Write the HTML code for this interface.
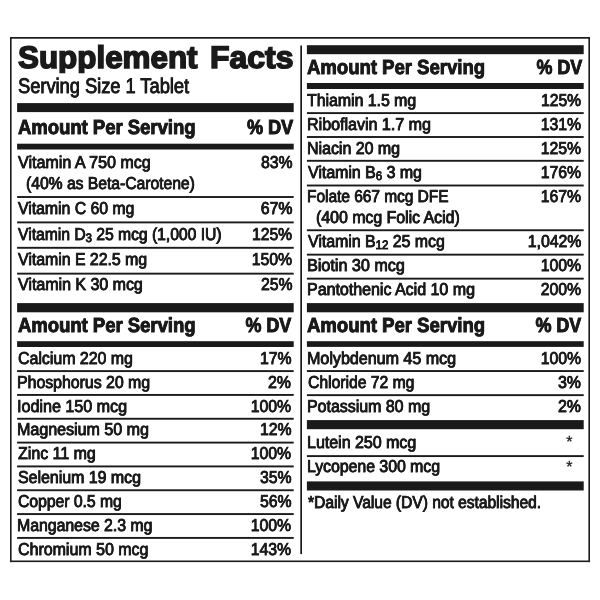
<!DOCTYPE html>
<html><head><meta charset="utf-8"><title>Supplement Facts</title>
<style>
html,body{margin:0;padding:0;background:#fff;}
body{width:600px;height:600px;position:relative;overflow:hidden;font-family:"Liberation Sans",sans-serif;color:#1a1a1a;text-rendering:geometricPrecision;}
#w{position:absolute;left:0;top:0;width:600px;height:600px;will-change:transform;background:#fff;}
.r{position:absolute;background:#1a1a1a;}
.t{position:absolute;white-space:nowrap;line-height:1;margin:0;padding:0;}
.b{font-weight:bold;-webkit-text-stroke:0.9px #1a1a1a;text-shadow:0.4px 0 0 #1a1a1a;}
.ttl{font-weight:bold;-webkit-text-stroke:1.6px #1a1a1a;clip-path:inset(-6px -6px 0px -6px);}
.row{-webkit-text-stroke:0.8px #1a1a1a;text-shadow:0.4px 0 0 #1a1a1a;}
.srv{-webkit-text-stroke:0.8px #1a1a1a;text-shadow:0.4px 0 0 #1a1a1a;}
.ast{-webkit-text-stroke:0.3px #1a1a1a;}
.sub{font-size:72%;position:relative;top:0.16em;}
</style></head><body><div id="w">
<svg width="600" height="600" viewBox="0 0 600 600" style="position:absolute;left:0;top:0" fill="#1a1a1a">
<rect x="10.00" y="37.00" width="580.00" height="1.70"/>
<rect x="10.00" y="560.50" width="580.00" height="1.60"/>
<rect x="10.00" y="37.00" width="1.60" height="525.10"/>
<rect x="588.40" y="37.00" width="1.60" height="525.10"/>
<rect x="300.30" y="45.50" width="1.70" height="508.60"/>
<rect x="17.10" y="103.10" width="276.60" height="9.00"/>
<rect x="17.10" y="143.70" width="276.60" height="5.80"/>
<rect x="17.10" y="196.05" width="276.60" height="1.90"/>
<rect x="17.10" y="221.45" width="276.60" height="1.90"/>
<rect x="17.10" y="246.85" width="276.60" height="1.90"/>
<rect x="17.10" y="272.70" width="276.60" height="1.90"/>
<rect x="17.10" y="303.10" width="276.60" height="9.20"/>
<rect x="17.10" y="341.20" width="276.60" height="5.80"/>
<rect x="17.10" y="370.15" width="276.60" height="1.90"/>
<rect x="17.10" y="393.98" width="276.60" height="1.90"/>
<rect x="17.10" y="417.81" width="276.60" height="1.90"/>
<rect x="17.10" y="441.64" width="276.60" height="1.90"/>
<rect x="17.10" y="465.47" width="276.60" height="1.90"/>
<rect x="17.10" y="489.30" width="276.60" height="1.90"/>
<rect x="17.10" y="513.13" width="276.60" height="1.90"/>
<rect x="17.10" y="536.96" width="276.60" height="1.90"/>
<rect x="306.90" y="45.20" width="276.80" height="9.00"/>
<rect x="306.90" y="83.00" width="276.80" height="6.00"/>
<rect x="306.90" y="112.15" width="276.80" height="1.90"/>
<rect x="306.90" y="136.05" width="276.80" height="1.90"/>
<rect x="306.90" y="159.85" width="276.80" height="1.90"/>
<rect x="306.90" y="184.55" width="276.80" height="1.90"/>
<rect x="306.90" y="229.30" width="276.80" height="1.90"/>
<rect x="306.90" y="253.70" width="276.80" height="1.90"/>
<rect x="306.90" y="277.70" width="276.80" height="1.90"/>
<rect x="306.90" y="303.10" width="276.80" height="9.20"/>
<rect x="306.90" y="341.20" width="276.80" height="5.70"/>
<rect x="306.90" y="370.10" width="276.80" height="1.90"/>
<rect x="306.90" y="394.20" width="276.80" height="1.90"/>
<rect x="306.90" y="420.10" width="276.80" height="9.10"/>
<rect x="306.90" y="455.15" width="276.80" height="1.90"/>
<rect x="306.90" y="481.40" width="276.80" height="9.10"/>
</svg>
<div class="t ttl" style="left:18.00px;top:42.00px;font-size:31.2px;transform:scaleX(1.0060);transform-origin:0 0">Supplement</div>
<div class="t ttl" style="left:210.00px;top:42.00px;font-size:31.2px;transform:scaleX(1.0236);transform-origin:0 0">Facts</div>
<div class="t srv" style="left:18.00px;top:76.00px;font-size:21.1px;transform:scaleX(0.8649);transform-origin:0 0">Serving Size 1 Tablet</div>
<div class="t b" style="left:18.00px;top:118.00px;font-size:20.4px;transform:scaleX(0.9054);transform-origin:0 0">Amount Per Serving</div>
<div class="t b" style="right:306.70px;top:118.00px;font-size:20.4px;transform:scaleX(0.8852);transform-origin:100% 0">% DV</div>
<div class="t row" style="left:18.00px;top:154.00px;font-size:17.2px;transform:scaleX(0.9339);transform-origin:0 0">Vitamin A 750 mcg</div>
<div class="t row" style="right:307.70px;top:154.00px;font-size:17.2px;transform:scaleX(0.9153);transform-origin:100% 0">83%</div>
<div class="t row" style="left:26.00px;top:175.00px;font-size:17.2px;transform:scaleX(0.9105);transform-origin:0 0">(40% as Beta-Carotene)</div>
<div class="t row" style="left:18.00px;top:200.00px;font-size:17.2px;transform:scaleX(0.9167);transform-origin:0 0">Vitamin C 60 mg</div>
<div class="t row" style="right:307.70px;top:200.00px;font-size:17.2px;transform:scaleX(0.9199);transform-origin:100% 0">67%</div>
<div class="t row" style="left:18.00px;top:226.00px;font-size:17.2px;transform:scaleX(0.9108);transform-origin:0 0">Vitamin D<span class="sub">3</span> 25 mcg (1,000 IU)</div>
<div class="t row" style="right:307.70px;top:226.00px;font-size:17.2px;transform:scaleX(0.9081);transform-origin:100% 0">125%</div>
<div class="t row" style="left:18.00px;top:251.00px;font-size:17.2px;transform:scaleX(0.9207);transform-origin:0 0">Vitamin E 22.5 mg</div>
<div class="t row" style="right:307.70px;top:251.00px;font-size:17.2px;transform:scaleX(0.9150);transform-origin:100% 0">150%</div>
<div class="t row" style="left:18.00px;top:276.00px;font-size:17.2px;transform:scaleX(0.9282);transform-origin:0 0">Vitamin K 30 mcg</div>
<div class="t row" style="right:307.70px;top:276.00px;font-size:17.2px;transform:scaleX(0.9150);transform-origin:100% 0">25%</div>
<div class="t b" style="left:18.00px;top:316.00px;font-size:20.4px;transform:scaleX(0.9054);transform-origin:0 0">Amount Per Serving</div>
<div class="t b" style="right:308.70px;top:316.00px;font-size:20.4px;transform:scaleX(0.8767);transform-origin:100% 0">% DV</div>
<div class="t row" style="left:18.00px;top:350.00px;font-size:17.2px;transform:scaleX(0.9245);transform-origin:0 0">Calcium 220 mg</div>
<div class="t row" style="right:308.70px;top:350.00px;font-size:17.2px;transform:scaleX(0.9150);transform-origin:100% 0">17%</div>
<div class="t row" style="left:17.00px;top:374.00px;font-size:17.2px;transform:scaleX(0.9219);transform-origin:0 0">Phosphorus 20 mg</div>
<div class="t row" style="right:308.70px;top:374.00px;font-size:17.2px;transform:scaleX(0.9150);transform-origin:100% 0">2%</div>
<div class="t row" style="left:17.00px;top:398.00px;font-size:17.2px;transform:scaleX(0.9358);transform-origin:0 0">Iodine 150 mcg</div>
<div class="t row" style="right:308.70px;top:398.00px;font-size:17.2px;transform:scaleX(0.9150);transform-origin:100% 0">100%</div>
<div class="t row" style="left:17.00px;top:421.00px;font-size:17.2px;transform:scaleX(0.9326);transform-origin:0 0">Magnesium 50 mg</div>
<div class="t row" style="right:308.70px;top:421.00px;font-size:17.2px;transform:scaleX(0.9150);transform-origin:100% 0">12%</div>
<div class="t row" style="left:18.00px;top:445.00px;font-size:17.2px;transform:scaleX(0.9281);transform-origin:0 0">Zinc 11 mg</div>
<div class="t row" style="right:308.70px;top:445.00px;font-size:17.2px;transform:scaleX(0.9150);transform-origin:100% 0">100%</div>
<div class="t row" style="left:18.00px;top:469.00px;font-size:17.2px;transform:scaleX(0.9257);transform-origin:0 0">Selenium 19 mcg</div>
<div class="t row" style="right:308.70px;top:469.00px;font-size:17.2px;transform:scaleX(0.9150);transform-origin:100% 0">35%</div>
<div class="t row" style="left:18.00px;top:493.00px;font-size:17.2px;transform:scaleX(0.9122);transform-origin:0 0">Copper 0.5 mg</div>
<div class="t row" style="right:308.70px;top:493.00px;font-size:17.2px;transform:scaleX(0.9150);transform-origin:100% 0">56%</div>
<div class="t row" style="left:17.00px;top:517.00px;font-size:17.2px;transform:scaleX(0.9196);transform-origin:0 0">Manganese 2.3 mg</div>
<div class="t row" style="right:308.70px;top:517.00px;font-size:17.2px;transform:scaleX(0.9150);transform-origin:100% 0">100%</div>
<div class="t row" style="left:18.00px;top:541.00px;font-size:17.2px;transform:scaleX(0.9282);transform-origin:0 0">Chromium 50 mcg</div>
<div class="t row" style="right:308.70px;top:541.00px;font-size:17.2px;transform:scaleX(0.9150);transform-origin:100% 0">143%</div>
<div class="t b" style="left:307.00px;top:58.00px;font-size:20.4px;transform:scaleX(0.9082);transform-origin:0 0">Amount Per Serving</div>
<div class="t b" style="right:17.80px;top:58.00px;font-size:20.4px;transform:scaleX(0.8756);transform-origin:100% 0">% DV</div>
<div class="t row" style="left:307.00px;top:92.00px;font-size:17.2px;transform:scaleX(0.9212);transform-origin:0 0">Thiamin 1.5 mg</div>
<div class="t row" style="right:18.80px;top:92.00px;font-size:17.2px;transform:scaleX(0.9081);transform-origin:100% 0">125%</div>
<div class="t row" style="left:307.00px;top:116.00px;font-size:17.2px;transform:scaleX(0.9327);transform-origin:0 0">Riboflavin 1.7 mg</div>
<div class="t row" style="right:18.80px;top:116.00px;font-size:17.2px;transform:scaleX(0.9150);transform-origin:100% 0">131%</div>
<div class="t row" style="left:307.00px;top:140.00px;font-size:17.2px;transform:scaleX(0.9268);transform-origin:0 0">Niacin 20 mg</div>
<div class="t row" style="right:18.80px;top:140.00px;font-size:17.2px;transform:scaleX(0.9150);transform-origin:100% 0">125%</div>
<div class="t row" style="left:308.00px;top:164.00px;font-size:17.2px;transform:scaleX(0.9246);transform-origin:0 0">Vitamin B<span class="sub">6</span> 3 mg</div>
<div class="t row" style="right:18.80px;top:164.00px;font-size:17.2px;transform:scaleX(0.9150);transform-origin:100% 0">176%</div>
<div class="t row" style="left:307.00px;top:188.00px;font-size:17.2px;transform:scaleX(0.8975);transform-origin:0 0">Folate 667 mcg DFE</div>
<div class="t row" style="right:18.80px;top:188.00px;font-size:17.2px;transform:scaleX(0.9150);transform-origin:100% 0">167%</div>
<div class="t row" style="left:316.00px;top:209.00px;font-size:17.2px;transform:scaleX(0.9227);transform-origin:0 0">(400 mcg Folic Acid)</div>
<div class="t row" style="left:308.00px;top:233.00px;font-size:17.2px;transform:scaleX(0.9227);transform-origin:0 0">Vitamin B<span class="sub">12</span> 25 mcg</div>
<div class="t row" style="right:18.80px;top:233.00px;font-size:17.2px;transform:scaleX(0.9185);transform-origin:100% 0">1,042%</div>
<div class="t row" style="left:307.00px;top:257.00px;font-size:17.2px;transform:scaleX(0.9385);transform-origin:0 0">Biotin 30 mcg</div>
<div class="t row" style="right:18.80px;top:257.00px;font-size:17.2px;transform:scaleX(0.9150);transform-origin:100% 0">100%</div>
<div class="t row" style="left:307.00px;top:281.00px;font-size:17.2px;transform:scaleX(0.9297);transform-origin:0 0">Pantothenic Acid 10 mg</div>
<div class="t row" style="right:18.80px;top:281.00px;font-size:17.2px;transform:scaleX(0.9150);transform-origin:100% 0">200%</div>
<div class="t b" style="left:307.00px;top:316.00px;font-size:20.4px;transform:scaleX(0.9082);transform-origin:0 0">Amount Per Serving</div>
<div class="t b" style="right:18.80px;top:316.00px;font-size:20.4px;transform:scaleX(0.8737);transform-origin:100% 0">% DV</div>
<div class="t row" style="left:307.00px;top:350.00px;font-size:17.2px;transform:scaleX(0.9338);transform-origin:0 0">Molybdenum 45 mcg</div>
<div class="t row" style="right:18.80px;top:350.00px;font-size:17.2px;transform:scaleX(0.9150);transform-origin:100% 0">100%</div>
<div class="t row" style="left:308.00px;top:374.00px;font-size:17.2px;transform:scaleX(0.9119);transform-origin:0 0">Chloride 72 mg</div>
<div class="t row" style="right:18.80px;top:374.00px;font-size:17.2px;transform:scaleX(0.9150);transform-origin:100% 0">3%</div>
<div class="t row" style="left:307.00px;top:398.00px;font-size:17.2px;transform:scaleX(0.9263);transform-origin:0 0">Potassium 80 mg</div>
<div class="t row" style="right:18.80px;top:398.00px;font-size:17.2px;transform:scaleX(0.9150);transform-origin:100% 0">2%</div>
<div class="t row" style="left:307.00px;top:434.00px;font-size:17.2px;transform:scaleX(0.9294);transform-origin:0 0">Lutein 250 mcg</div>
<div class="t ast" style="right:27.60px;top:435.00px;font-size:16.0px;transform:scaleX(1.0000);transform-origin:100% 0">*</div>
<div class="t row" style="left:307.00px;top:458.00px;font-size:17.2px;transform:scaleX(0.9195);transform-origin:0 0">Lycopene 300 mcg</div>
<div class="t ast" style="right:27.60px;top:460.00px;font-size:16.0px;transform:scaleX(1.0000);transform-origin:100% 0">*</div>
<div class="t row" style="left:308.00px;top:494.00px;font-size:17.2px;transform:scaleX(0.9047);transform-origin:0 0">*Daily Value (DV) not established.</div>
</div></body></html>
